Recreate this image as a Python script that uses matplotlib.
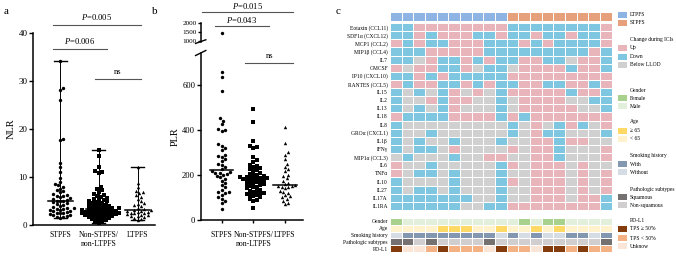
import numpy as np
import matplotlib
matplotlib.use('Agg')
import matplotlib.pyplot as plt
from matplotlib.colors import ListedColormap
from matplotlib.patches import Rectangle

plt.rcParams['font.family'] = ['Liberation Serif', 'DejaVu Serif']
plt.rcParams['mathtext.fontset'] = 'custom'
plt.rcParams['mathtext.it'] = 'Liberation Serif:italic'
plt.rcParams['mathtext.rm'] = 'Liberation Serif'

W, H = 676, 258

# ---- data: panel a / b ----
groups = ['STPFS', 'Non-STPFS/\nnon-LTPFS', 'LTPFS']

nlr_stpfs = [34.2, 28.5, 28.1, 26.0, 18.0, 17.7, 13.0, 12.1, 11.0, 9.8, 9.0, 8.6, 8.3, 8.0,
             7.6, 7.2, 7.0, 6.8, 6.5, 6.3, 6.1, 6.0, 5.8, 5.6, 5.5, 5.3, 5.1, 5.0, 4.9, 4.7,
             4.5, 4.3, 4.2, 4.0, 3.8, 3.6, 3.5, 3.4, 3.3, 3.2, 3.1, 3.0, 2.9, 2.8, 2.6, 2.5,
             2.4, 2.2, 2.1, 2.0, 1.9, 1.7, 1.6, 1.5]
nlr_mid = [15.6, 14.3, 12.0, 11.2, 11.0, 10.8, 8.0, 7.6, 7.2, 6.9, 6.5, 6.3, 6.1, 5.9, 5.7,
           5.5, 5.3, 5.2, 5.0, 4.9, 4.8, 4.6, 4.5, 4.4, 4.2, 4.1, 4.0, 3.9, 3.8, 3.7, 3.6,
           3.5, 3.5, 3.4, 3.3, 3.2, 3.2, 3.1, 3.0, 3.0, 2.9, 2.8, 2.8, 2.7, 2.6, 2.6, 2.5,
           2.4, 2.4, 2.3, 2.2, 2.2, 2.1, 2.0, 2.0, 1.9, 1.8, 1.7, 1.6, 1.5, 1.4, 1.3, 1.2,
           1.0, 0.8, 0.6, 0.4]
nlr_ltpfs = [12.1, 8.8, 8.0, 7.0, 6.8, 6.6, 6.2, 5.8, 5.5, 5.0, 4.6, 4.4, 4.2, 4.0, 3.6,
             3.3, 3.2, 3.1, 3.0, 2.9, 2.8, 2.7, 2.6, 2.5, 2.4, 2.2, 2.1, 2.0, 1.9, 1.8, 1.7,
             1.5, 1.3, 1.1]

plr_stpfs = [1450, 655, 635, 570, 450, 440, 425, 405, 400, 395, 335, 330, 320, 310, 290, 285,
             280, 270, 262, 250, 245, 235, 225, 215, 212, 210, 208, 205, 200, 195, 190, 182,
             175, 165, 155, 145, 135, 125, 122, 118, 112, 100, 92, 85, 75, 50]
plr_mid = [490, 435, 350, 330, 325, 320, 280, 265, 255, 245, 240, 235, 230, 225, 220, 215,
           210, 205, 200, 198, 195, 192, 190, 188, 186, 185, 184, 182, 180, 178, 175, 172,
           170, 168, 165, 160, 158, 155, 150, 148, 145, 140, 135, 130, 128, 125, 120, 118,
           115, 112, 110, 105, 100, 95, 90, 85, 55]
plr_ltpfs = [410, 340, 300, 290, 270, 250, 235, 225, 215, 200, 195, 185, 175, 165, 160, 155,
             152, 150, 148, 145, 140, 130, 125, 120, 110, 105, 100, 95, 85, 75, 70]

markers = ['o', 's', '^']

# ---- data: panel c ----
cytokines = ['Eotaxin (CCL11)', 'SDF1\u03b1 (CXCL12)', 'MCP1 (CCL2)', 'MIP1\u03b2 (CCL4)', 'IL7',
             'GMCSF', 'IP10 (CXCL10)', 'RANTES (CCL5)', 'IL15', 'IL2', 'IL13', 'IL18', 'IL8',
             'GRO\u03b1 (CXCL1)', 'IL1\u03b2', 'IFN\u03b3', 'MIP1\u03b1 (CCL3)', 'IL6', 'TNF\u03b1',
             'IL10', 'IL27', 'IL17A', 'IL1RA']
# U = up, D = down, N = below LLOD ; 10 LTPFS then 9 STPFS patients
change = ['DDUUUUUUUUDDDDDDDDU',
          'DDUDUUUDDUDDUDDUDDU',
          'UDUDDUUUDDDUDUDDDDU',
          'DDDUUUUUDDDDDDDDDUD',
          'DDNUDDUDUDDUUDDNUUD',
          'UNUUDDUNDDNUUUUDUUD',
          'DDUDUDDDDDUUUUUUUUU',
          'UDUUDDUDUDDUUDDUUDU',
          'DNDNDUNUNDUUUUUDUUD',
          'DNNUDUUNNDNUUUUNNDD',
          'DNDNDUNNNDNUUUUUNND',
          'UDDDDUUUUDUDUUUUUUU',
          'DNNNNNNNNNDNUNDUDNU',
          'DNNDNNNNNNDNUDDNNND',
          'DNDNNDNNNDNNUUDUUNN',
          'DNDDNUNNNNUNUUDNNNU',
          'NDNNNDNNUUNNUUDNNNU',
          'UNNDNNNNNDUNUUUNUNN',
          'UNDDNDNNNDNNUUUNUNU',
          'DNNNNDNNNDUNUUUNUNU',
          'DNDDNDNNNDNNUUUNUNU',
          'DDDDDDDNNDNNUUUNUUD',
          'DDDDDDNNDDUUUUUUUUD']
pfs_group = ['L'] * 10 + ['S'] * 9
gender = 'FMMMMMMMMMMFMFFMMMM'
age = 'YYYYOOOYYOYYOYOYYYY'          # O: >=65, Y: <65
smoking = 'NWWWWWWWWNWNWNNWWNW'      # W: with, N: without
pathology = 'SSNSNNNNSNNNNNNNNNS'    # S: squamous, N: non-squamous
pdl1 = 'HUULHLLLUHLLUHHLHLL'        # H: >=50%, L: <50%, U: unknown
annot_names = ['Gender', 'Age', 'Smoking history', 'Pathologic subtypes', 'PD-L1']

# colours
c_ltpfs, c_stpfs = '#8DB4E2', '#E6A07C'
c_up, c_down, c_llod = '#E8B6BA', '#7FC7E1', '#D0D0D0'
c_fem, c_male = '#A9D18E', '#E2EFDA'
c_old, c_young = '#FFD966', '#FFF2CC'
c_with, c_without = '#8497B0', '#D6DCE4'
c_sq, c_nsq = '#767171', '#D0CECE'
c_hi, c_lo, c_unk = '#843C0C', '#F4B183', '#FBE5D6'

fig = plt.figure(figsize=(W / 100, H / 100), dpi=100)


def px_axes(left, top, right, bottom):
    return fig.add_axes([left / W, 1 - bottom / H, (right - left) / W, (bottom - top) / H])


def swarm(vals, center, xpx, ypx, d=3.4):
    # simple deterministic beeswarm in pixel space
    vals = np.asarray(vals, float)
    xs = np.zeros(len(vals))
    placed = []
    offs = [0.0]
    for k in range(1, 40):
        offs += [k * d * 0.5, -k * d * 0.5]
    for i in np.argsort(vals):
        y = vals[i] * ypx
        for off in offs:
            if all((off - px) ** 2 + (y - py) ** 2 >= d * d for px, py in placed):
                break
        placed.append((off, y))
        xs[i] = center + off / xpx
    return xs


def style_axis(ax):
    for s in ['top', 'right']:
        ax.spines[s].set_visible(False)
    for s in ['left', 'bottom']:
        ax.spines[s].set_linewidth(1.1)
    ax.tick_params(width=1, length=3, labelsize=6.5, pad=1)


# ---------------- panel a ----------------
axa = px_axes(33, 33, 155, 225)
style_axis(axa)
axa.set_xlim(0.3, 3.45)
axa.set_ylim(0, 40)
xpx_a, ypx_a = 39.0, 4.8
for k, vals in enumerate([nlr_stpfs, nlr_mid, nlr_ltpfs]):
    pos = k + 1
    xs = swarm(vals, pos, xpx_a, ypx_a)
    axa.scatter(xs, vals, s=6, marker=markers[k], color='black', linewidths=0, zorder=3)
    med = np.median(vals)
    axa.plot([pos - 0.32, pos + 0.32], [med, med], color='black', lw=1.1, zorder=4)
    axa.plot([pos, pos], [min(vals), max(vals)], color='black', lw=0.7, zorder=2)
    for v in [min(vals), max(vals)]:
        axa.plot([pos - 0.17, pos + 0.17], [v, v], color='black', lw=1.0, zorder=2)
axa.set_yticks([0, 10, 20, 30, 40])
axa.set_xticks([1, 2, 3])
axa.set_xticklabels(groups, fontsize=5.6)
axa.tick_params(axis='x', length=0, pad=4)
axa.set_ylabel('NLR', fontsize=7.5, labelpad=2)

sig_a = [(0.81, 3.09, 41.7, '$P$=0.005'), (0.81, 2.2, 36.7, '$P$=0.006'), (1.89, 3.1, 30.4, 'ns')]
for x0, x1, y, lab in sig_a:
    axa.plot([x0, x1], [y, y], color='#555555', lw=0.8, clip_on=False)
    axa.text((x0 + x1) / 2, y + 0.6, lab, ha='center', va='bottom', fontsize=6.2)

# ---------------- panel b ----------------
axb = px_axes(200.7, 53, 303, 220)
axb_up = px_axes(200.7, 23.3, 303, 41.6)
style_axis(axb)
style_axis(axb_up)
axb_up.spines['bottom'].set_visible(False)
axb_up.tick_params(axis='x', bottom=False, labelbottom=False)
axb.set_xlim(0.335, 3.57)
axb_up.set_xlim(0.335, 3.57)
axb.set_ylim(0, 740)
axb_up.set_ylim(950, 2000)
xpx_b, ypx_b = 31.6, 0.2257
for k, vals in enumerate([plr_stpfs, plr_mid, plr_ltpfs]):
    pos = k + 1
    vals = np.asarray(vals, float)
    lo = vals[vals <= 740]
    hi = vals[vals > 740]
    xs = swarm(lo, pos, xpx_b, ypx_b)
    axb.scatter(xs, lo, s=6, marker=markers[k], color='black', linewidths=0, zorder=3)
    if len(hi):
        axb_up.scatter(np.full(len(hi), pos), hi, s=6, marker=markers[k], color='black',
                       linewidths=0, zorder=3)
    med = np.median(vals)
    axb.plot([pos - 0.37, pos + 0.37], [med, med], color='black', lw=1.1, zorder=4)
axb.set_yticks([0, 200, 400, 600])
axb_up.set_yticks([1000, 1500, 2000])
axb_up.tick_params(axis='y', labelsize=5.2, length=2.5, pad=0.5)
axb.tick_params(axis='y', labelsize=6.2)
axb.set_xticks([1, 2, 3])
axb.set_xticklabels(['STPFS', 'Non-STPFS/\nnon-LTPFS', 'LTPFS'], fontsize=5.6)
axb.tick_params(axis='x', length=2, pad=6)
axb.set_ylabel('PLR', fontsize=7.5, labelpad=2)
# break marks
axb.plot([-0.05, 0.05], [0.985, 1.015], transform=axb.transAxes, color='black', lw=1.0,
         clip_on=False)
axb_up.plot([-0.05, 0.05], [-0.1, 0.1], transform=axb_up.transAxes, color='black', lw=1.0,
            clip_on=False)

sig_b = [(axb_up, 0.37, 3.26, 2667, '$P$=0.015', 60),
         (axb_up, 0.79, 2.5, 1845, '$P$=0.043', 40),
         (axb, 1.74, 3.26, 696, 'ns', 12)]
for ax, x0, x1, y, lab, dy in sig_b:
    ax.plot([x0, x1], [y, y], color='#555555', lw=0.8, clip_on=False)
    ax.text((x0 + x1) / 2, y + dy, lab, ha='center', va='bottom', fontsize=6.2)

# ---------------- panel c ----------------
code = {'U': 0, 'D': 1, 'N': 2}
mat = np.array([[code[ch] for ch in row] for row in change])
ncol = mat.shape[1]

axg = px_axes(390, 12.3, 611.5, 20.7)
gmat = np.array([[0 if g == 'L' else 1 for g in pfs_group]])
axg.pcolormesh(gmat, cmap=ListedColormap([c_ltpfs, c_stpfs]), vmin=-0.5, vmax=1.5,
               edgecolors='white', linewidth=0.7)

axh = px_axes(390, 23, 611.5, 210)
axh.pcolormesh(mat, cmap=ListedColormap([c_up, c_down, c_llod]), vmin=-0.5, vmax=2.5,
               edgecolors='white', linewidth=0.7)
axh.set_ylim(len(cytokines), 0)
axh.set_yticks(np.arange(len(cytokines)) + 0.5)
axh.set_yticklabels(cytokines, fontsize=4.0)

# annotation rows: colour each cell directly
annot_rows = [[c_fem if v == 'F' else c_male for v in gender],
              [c_old if v == 'O' else c_young for v in age],
              [c_with if v == 'W' else c_without for v in smoking],
              [c_sq if v == 'S' else c_nsq for v in pathology],
              [{'H': c_hi, 'L': c_lo, 'U': c_unk}[v] for v in pdl1]]
axn = px_axes(390, 218, 611.5, 252)
for r, row in enumerate(annot_rows):
    for j, col in enumerate(row):
        axn.add_patch(Rectangle((j, r), 1, 1, facecolor=col, edgecolor='white', lw=0.7))
axn.set_xlim(0, ncol)
axn.set_ylim(len(annot_rows), 0)
axn.set_yticks(np.arange(len(annot_rows)) + 0.5)
axn.set_yticklabels(annot_names, fontsize=4.0)

for ax in [axg, axh, axn]:
    for s in ax.spines.values():
        s.set_visible(False)
    ax.set_xticks([])
    ax.tick_params(axis='y', length=0, pad=1.5)
axg.set_yticks([])

# ---------------- overlay: panel letters and legend ----------------
ov = fig.add_axes([0, 0, 1, 1])
ov.set_xlim(0, W)
ov.set_ylim(H, 0)
ov.axis('off')
ov.patch.set_alpha(0)
for x, y, lab in [(4, 12, 'a'), (152, 12, 'b'), (336, 12, 'c')]:
    ov.text(x, y, lab, fontsize=8, va='center', ha='left')

legend_items = [
    (15, c_ltpfs, 'LTPFS'), (23, c_stpfs, 'STPFS'),
    (40, None, 'Change during ICIs'), (48, c_up, 'Up'), (57, c_down, 'Down'),
    (65, c_llod, 'Below LLOD'),
    (90, None, 'Gender'), (98, c_fem, 'Female'), (106, c_male, 'Male'),
    (122, None, 'Age'), (131, c_old, '\u2265 65'), (139, c_young, '< 65'),
    (155, None, 'Smoking history'), (164, c_with, 'With'), (172, c_without, 'Without'),
    (189, None, 'Pathologic subtypes'), (197, c_sq, 'Squamous'), (205, c_nsq, 'Non-squamous'),
    (221, None, 'PD-L1'), (229, c_hi, 'TPS \u2265 50%'), (238, c_lo, 'TPS < 50%'),
    (246, c_unk, 'Unknow'),
]
for y, col, lab in legend_items:
    if col is not None:
        ov.add_patch(Rectangle((618, y - 2.6), 9, 5.2, facecolor=col, edgecolor='none'))
    ov.text(630, y, lab, fontsize=4.0, va='center', ha='left')

fig.savefig('out.png', dpi=100)
